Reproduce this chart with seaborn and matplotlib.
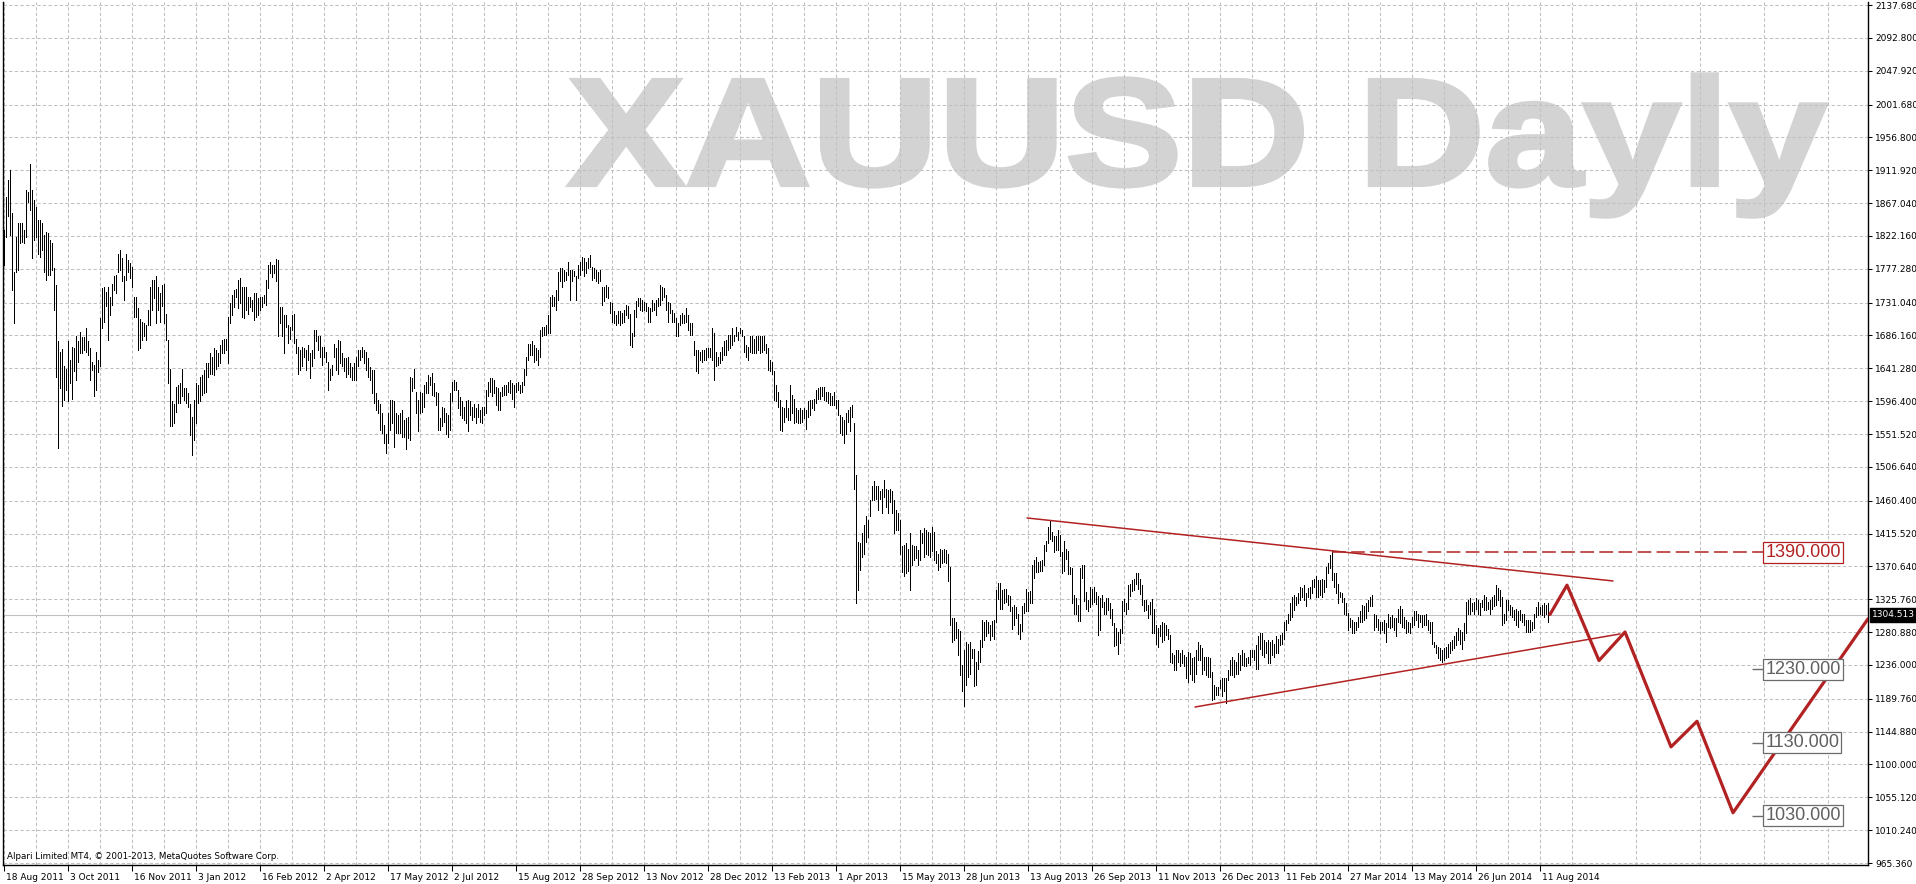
import numpy as np
import pandas as pd

import seaborn as sns
import matplotlib
matplotlib.use('Agg')
import matplotlib.pyplot as plt
from matplotlib.textpath import TextPath
from matplotlib.patches import PathPatch
from matplotlib.font_manager import FontProperties
from matplotlib.transforms import Affine2D, IdentityTransform, ScaledTranslation, blended_transform_factory

# daily bars, 18 Aug 2011 .. 15 Aug 2014 (low / high)
bar_low = [
    1783, 1821, 1850, 1824, 1748, 1703, 1773, 1776, 1812, 1814,
    1812, 1821, 1868, 1858, 1792, 1817, 1821, 1798, 1794, 1803,
    1773, 1762, 1769, 1769, 1776, 1721, 1629, 1532, 1614, 1590,
    1598, 1612, 1596, 1621, 1600, 1637, 1625, 1650, 1662, 1662,
    1666, 1664, 1660, 1625, 1639, 1603, 1612, 1636, 1644, 1696,
    1705, 1726, 1680, 1714, 1728, 1748, 1744, 1773, 1776, 1760,
    1735, 1762, 1773, 1764, 1753, 1712, 1712, 1666, 1669, 1680,
    1685, 1680, 1700, 1700, 1721, 1737, 1703, 1721, 1705, 1726,
    1703, 1680, 1621, 1562, 1562, 1566, 1582, 1594, 1594, 1603,
    1598, 1594, 1589, 1550, 1523, 1543, 1566, 1594, 1596, 1605,
    1607, 1609, 1630, 1634, 1634, 1632, 1641, 1644, 1648, 1662,
    1662, 1666, 1648, 1703, 1714, 1725, 1739, 1723, 1730, 1712,
    1710, 1721, 1716, 1725, 1719, 1707, 1712, 1714, 1721, 1725,
    1730, 1728, 1751, 1771, 1766, 1771, 1760, 1685, 1703, 1685,
    1662, 1698, 1676, 1682, 1694, 1676, 1662, 1634, 1639, 1644,
    1657, 1639, 1653, 1628, 1644, 1655, 1678, 1666, 1657, 1646,
    1657, 1650, 1612, 1625, 1632, 1657, 1639, 1634, 1648, 1644,
    1637, 1630, 1634, 1630, 1625, 1625, 1625, 1644, 1653, 1657,
    1648, 1639, 1630, 1625, 1607, 1594, 1584, 1580, 1557, 1553,
    1539, 1525, 1539, 1557, 1566, 1534, 1553, 1553, 1553, 1548,
    1548, 1531, 1546, 1543, 1610, 1614, 1580, 1555, 1580, 1582,
    1589, 1607, 1607, 1619, 1605, 1603, 1591, 1557, 1557, 1562,
    1568, 1552, 1548, 1557, 1596, 1612, 1612, 1587, 1578, 1573,
    1571, 1566, 1555, 1578, 1571, 1575, 1566, 1575, 1568, 1566,
    1578, 1580, 1603, 1609, 1603, 1607, 1591, 1584, 1584, 1603,
    1605, 1605, 1609, 1607, 1600, 1589, 1609, 1612, 1607, 1609,
    1619, 1632, 1653, 1660, 1660, 1650, 1653, 1646, 1657, 1685,
    1687, 1687, 1689, 1689, 1726, 1726, 1721, 1735, 1760, 1753,
    1760, 1762, 1769, 1735, 1760, 1767, 1735, 1764, 1769, 1776,
    1767, 1771, 1778, 1780, 1762, 1764, 1760, 1758, 1760, 1728,
    1733, 1739, 1737, 1717, 1705, 1703, 1700, 1703, 1701, 1703,
    1705, 1714, 1710, 1673, 1671, 1685, 1712, 1726, 1721, 1719,
    1721, 1719, 1705, 1705, 1719, 1721, 1714, 1726, 1728, 1735,
    1739, 1721, 1705, 1717, 1705, 1705, 1685, 1685, 1701, 1703,
    1703, 1705, 1694, 1687, 1687, 1660, 1637, 1635, 1653, 1650,
    1653, 1653, 1657, 1657, 1653, 1625, 1644, 1646, 1648, 1653,
    1660, 1660, 1666, 1669, 1673, 1678, 1685, 1680, 1689, 1685,
    1664, 1657, 1653, 1664, 1662, 1662, 1662, 1666, 1662, 1664,
    1666, 1662, 1639, 1637, 1634, 1598, 1596, 1589, 1557, 1555,
    1568, 1575, 1571, 1571, 1580, 1566, 1568, 1566, 1566, 1568,
    1573, 1559, 1575, 1578, 1587, 1584, 1594, 1600, 1600, 1603,
    1598, 1596, 1594, 1591, 1591, 1591, 1587, 1578, 1553, 1550,
    1539, 1552, 1568, 1555, 1575, 1476, 1321, 1338, 1366, 1384,
    1388, 1404, 1411, 1439, 1461, 1461, 1463, 1448, 1463, 1443,
    1466, 1452, 1443, 1459, 1443, 1416, 1420, 1420, 1388, 1363,
    1357, 1361, 1365, 1338, 1372, 1380, 1382, 1372, 1379, 1402,
    1384, 1388, 1386, 1384, 1391, 1379, 1375, 1366, 1370, 1375,
    1377, 1375, 1350, 1290, 1268, 1270, 1273, 1250, 1222, 1200,
    1180, 1208, 1220, 1223, 1245, 1207, 1208, 1230, 1240, 1261,
    1270, 1275, 1280, 1270, 1276, 1272, 1295, 1326, 1313, 1313,
    1320, 1322, 1318, 1310, 1285, 1290, 1300, 1278, 1272, 1282,
    1307, 1309, 1310, 1320, 1320, 1355, 1363, 1363, 1365, 1365,
    1373, 1392, 1402, 1408, 1405, 1390, 1393, 1393, 1385, 1362,
    1364, 1381, 1360, 1360, 1320, 1306, 1305, 1296, 1296, 1355,
    1323, 1313, 1310, 1315, 1319, 1322, 1319, 1277, 1284, 1315,
    1306, 1305, 1311, 1300, 1290, 1262, 1263, 1251, 1266, 1280,
    1310, 1305, 1312, 1330, 1337, 1339, 1347, 1340, 1333, 1318,
    1310, 1311, 1300, 1305, 1280, 1279, 1265, 1261, 1275, 1268,
    1270, 1277, 1272, 1240, 1238, 1229, 1229, 1240, 1234, 1238,
    1234, 1218, 1213, 1224, 1215, 1213, 1224, 1243, 1243, 1224,
    1229, 1222, 1220, 1220, 1188, 1190, 1195, 1195, 1204, 1193,
    1200, 1184, 1215, 1222, 1222, 1220, 1224, 1224, 1229, 1236,
    1234, 1234, 1238, 1236, 1247, 1243, 1231, 1231, 1258, 1249,
    1247, 1252, 1238, 1238, 1249, 1247, 1252, 1252, 1263, 1265,
    1272, 1284, 1293, 1297, 1302, 1311, 1318, 1320, 1325, 1329,
    1325, 1316, 1329, 1327, 1334, 1343, 1329, 1329, 1332, 1329,
    1336, 1343, 1361, 1368, 1352, 1343, 1334, 1320, 1329, 1322,
    1306, 1304, 1284, 1288, 1279, 1279, 1284, 1288, 1295, 1295,
    1297, 1300, 1309, 1316, 1316, 1284, 1288, 1284, 1279, 1284,
    1279, 1268, 1288, 1286, 1288, 1284, 1275, 1295, 1293, 1288,
    1286, 1279, 1281, 1279, 1288, 1291, 1297, 1288, 1295, 1288,
    1291, 1291, 1284, 1279, 1265, 1261, 1252, 1245, 1243, 1240,
    1243, 1245, 1247, 1252, 1256, 1259, 1263, 1270, 1265, 1258,
    1270, 1279, 1306, 1306, 1309, 1306, 1313, 1306, 1304, 1315,
    1311, 1311, 1313, 1306, 1313, 1316, 1318, 1325, 1316, 1291,
    1293, 1297, 1311, 1304, 1302, 1297, 1291, 1288, 1297, 1295,
    1291, 1281, 1281, 1281, 1284, 1286, 1302, 1304, 1306, 1304,
    1302, 1306, 1294,
]
bar_high = [
    1830, 1876, 1898, 1912, 1853, 1773, 1821, 1840, 1840, 1840,
    1830, 1885, 1882, 1921, 1885, 1871, 1862, 1844, 1844, 1840,
    1824, 1828, 1826, 1817, 1812, 1778, 1755, 1678, 1664, 1668,
    1644, 1640, 1678, 1652, 1670, 1669, 1685, 1678, 1691, 1684,
    1684, 1696, 1678, 1669, 1650, 1646, 1664, 1652, 1710, 1751,
    1753, 1745, 1753, 1739, 1757, 1767, 1769, 1798, 1803, 1792,
    1767, 1798, 1789, 1785, 1780, 1739, 1739, 1723, 1709, 1705,
    1703, 1701, 1721, 1753, 1762, 1762, 1767, 1753, 1744, 1755,
    1757, 1716, 1680, 1641, 1596, 1593, 1616, 1619, 1621, 1641,
    1614, 1614, 1607, 1593, 1575, 1598, 1621, 1619, 1630, 1632,
    1639, 1648, 1648, 1662, 1657, 1669, 1666, 1662, 1673, 1680,
    1682, 1682, 1712, 1730, 1741, 1748, 1750, 1762, 1764, 1753,
    1753, 1753, 1739, 1739, 1735, 1744, 1744, 1737, 1739, 1739,
    1741, 1762, 1782, 1787, 1782, 1782, 1791, 1789, 1725, 1725,
    1714, 1714, 1700, 1698, 1714, 1716, 1682, 1671, 1666, 1671,
    1669, 1666, 1673, 1662, 1666, 1694, 1694, 1685, 1685, 1671,
    1671, 1664, 1650, 1641, 1646, 1675, 1669, 1680, 1678, 1662,
    1655, 1655, 1657, 1648, 1643, 1648, 1657, 1666, 1666, 1671,
    1666, 1664, 1655, 1643, 1639, 1639, 1607, 1598, 1593, 1580,
    1564, 1552, 1580, 1598, 1598, 1596, 1580, 1578, 1580, 1584,
    1571, 1573, 1575, 1630, 1628, 1641, 1609, 1598, 1609, 1607,
    1618, 1623, 1632, 1630, 1635, 1621, 1609, 1607, 1573, 1589,
    1587, 1580, 1578, 1607, 1623, 1625, 1623, 1612, 1602, 1596,
    1589, 1596, 1598, 1596, 1589, 1593, 1587, 1593, 1584, 1589,
    1589, 1612, 1623, 1628, 1628, 1625, 1616, 1614, 1609, 1616,
    1618, 1618, 1623, 1625, 1621, 1618, 1621, 1623, 1619, 1623,
    1641, 1657, 1675, 1675, 1678, 1673, 1669, 1666, 1694, 1698,
    1698, 1700, 1714, 1739, 1742, 1739, 1748, 1773, 1778, 1778,
    1776, 1773, 1787, 1776, 1776, 1774, 1767, 1783, 1787, 1794,
    1792, 1787, 1792, 1796, 1780, 1778, 1776, 1773, 1776, 1753,
    1753, 1755, 1753, 1732, 1730, 1719, 1714, 1719, 1719, 1717,
    1721, 1728, 1726, 1716, 1689, 1721, 1733, 1737, 1737, 1735,
    1732, 1730, 1725, 1723, 1735, 1730, 1735, 1737, 1755, 1753,
    1751, 1742, 1732, 1730, 1721, 1717, 1710, 1703, 1714, 1717,
    1714, 1723, 1714, 1703, 1703, 1678, 1666, 1666, 1664, 1666,
    1666, 1669, 1669, 1669, 1696, 1689, 1664, 1657, 1664, 1671,
    1678, 1680, 1687, 1687, 1696, 1687, 1698, 1691, 1696, 1694,
    1685, 1673, 1671, 1685, 1685, 1682, 1685, 1685, 1685, 1685,
    1685, 1675, 1669, 1653, 1650, 1637, 1619, 1609, 1598, 1589,
    1587, 1598, 1587, 1619, 1605, 1600, 1587, 1584, 1587, 1584,
    1587, 1584, 1596, 1598, 1598, 1600, 1612, 1614, 1616, 1616,
    1616, 1609, 1609, 1607, 1603, 1609, 1598, 1598, 1578, 1575,
    1571, 1580, 1584, 1589, 1591, 1566, 1496, 1404, 1402, 1416,
    1427, 1439, 1434, 1461, 1480, 1487, 1480, 1480, 1473, 1477,
    1489, 1477, 1475, 1477, 1473, 1461, 1448, 1443, 1434, 1398,
    1400, 1402, 1395, 1416, 1400, 1398, 1398, 1393, 1420, 1416,
    1423, 1420, 1418, 1416, 1425, 1418, 1391, 1388, 1395, 1393,
    1395, 1393, 1388, 1370, 1300, 1300, 1295, 1285, 1282, 1236,
    1256, 1267, 1265, 1267, 1258, 1258, 1240, 1255, 1270, 1298,
    1295, 1298, 1295, 1290, 1296, 1298, 1338, 1348, 1348, 1338,
    1340, 1340, 1331, 1330, 1315, 1318, 1315, 1305, 1292, 1316,
    1320, 1340, 1336, 1337, 1373, 1380, 1383, 1377, 1378, 1380,
    1400, 1406, 1425, 1433, 1418, 1412, 1412, 1420, 1414, 1390,
    1405, 1394, 1391, 1370, 1368, 1332, 1327, 1318, 1369, 1373,
    1372, 1335, 1325, 1343, 1340, 1343, 1336, 1330, 1327, 1331,
    1322, 1327, 1327, 1321, 1312, 1293, 1286, 1281, 1285, 1324,
    1326, 1320, 1345, 1346, 1352, 1353, 1361, 1361, 1353, 1345,
    1325, 1325, 1318, 1322, 1326, 1313, 1291, 1286, 1291, 1294,
    1293, 1291, 1285, 1277, 1252, 1249, 1256, 1256, 1252, 1256,
    1249, 1247, 1254, 1252, 1245, 1247, 1256, 1268, 1263, 1259,
    1247, 1247, 1247, 1245, 1227, 1209, 1206, 1206, 1215, 1218,
    1218, 1218, 1229, 1243, 1247, 1243, 1240, 1252, 1249, 1256,
    1252, 1245, 1247, 1256, 1256, 1256, 1263, 1275, 1279, 1279,
    1270, 1268, 1270, 1268, 1270, 1265, 1275, 1272, 1277, 1279,
    1295, 1297, 1306, 1320, 1329, 1332, 1329, 1334, 1343, 1341,
    1345, 1334, 1341, 1343, 1352, 1354, 1357, 1352, 1352, 1354,
    1352, 1370, 1375, 1386, 1392, 1361, 1361, 1347, 1336, 1334,
    1327, 1320, 1307, 1300, 1297, 1295, 1295, 1302, 1309, 1318,
    1316, 1320, 1325, 1329, 1332, 1306, 1304, 1299, 1295, 1295,
    1297, 1293, 1306, 1302, 1304, 1300, 1300, 1313, 1316, 1313,
    1302, 1297, 1295, 1293, 1302, 1309, 1309, 1306, 1304, 1304,
    1304, 1306, 1297, 1295, 1295, 1268, 1263, 1261, 1259, 1256,
    1259, 1261, 1265, 1268, 1270, 1275, 1281, 1286, 1284, 1281,
    1293, 1322, 1325, 1327, 1320, 1322, 1327, 1325, 1320, 1325,
    1332, 1329, 1322, 1325, 1329, 1332, 1345, 1341, 1338, 1329,
    1306, 1325, 1325, 1318, 1315, 1311, 1313, 1309, 1311, 1306,
    1306, 1297, 1297, 1297, 1295, 1306, 1315, 1322, 1315, 1318,
    1320, 1318, 1320,
]

date_labels = ['18 Aug 2011', '3 Oct 2011', '16 Nov 2011', '3 Jan 2012', '16 Feb 2012',
               '2 Apr 2012', '17 May 2012', '2 Jul 2012', '15 Aug 2012', '28 Sep 2012',
               '13 Nov 2012', '28 Dec 2012', '13 Feb 2013', '1 Apr 2013', '15 May 2013',
               '28 Jun 2013', '13 Aug 2013', '26 Sep 2013', '11 Nov 2013', '26 Dec 2013',
               '11 Feb 2014', '27 Mar 2014', '13 May 2014', '26 Jun 2014', '11 Aug 2014']
price_ticks = [2137.68, 2092.80, 2047.92, 2001.68, 1956.80, 1911.92, 1867.04, 1822.16,
               1777.28, 1731.04, 1686.16, 1641.28, 1596.40, 1551.52, 1506.64, 1460.40,
               1415.52, 1370.64, 1325.76, 1280.88, 1236.00, 1189.76, 1144.88, 1100.00,
               1055.12, 1010.24, 965.36]
last_price = 1304.513

# hand drawn objects (bar index, price)
upper_trend_x = [511.5, 804.5]
upper_trend_y = [1436.8, 1350.7]
lower_trend_x = [595.5, 808.0]
lower_trend_y = [1178.5, 1278.3]
resist_level = 1390.0
resist_from = 664
forecast_x = [773, 781.5, 797.5, 810.5, 833.5, 846.5, 864.5, 932]
forecast_y = [1305, 1345, 1242, 1281, 1124, 1159, 1034, 1299]
target_levels = [1230.0, 1130.0, 1030.0]

RED = '#b22222'
GRID = '#c0c0c0'

assert len(bar_low) == len(bar_high)
bars = pd.DataFrame({'bar': np.arange(len(bar_low)), 'low': bar_low, 'high': bar_high})

sns.set_theme(style='white')
plt.rcParams['font.family'] = ['DejaVu Sans']

W, H = 1916, 884
fig = plt.figure(figsize=(W / 100, H / 100), dpi=100)
ax = fig.add_axes([3 / W, 19 / H, 1865 / W, 863 / H])
ax.set_facecolor('white')

ax.set_xlim(-0.5, 932)
ax.set_ylim(962.63, 2141.78)

# watermark, fitted to its box in pixels (outline stroke makes it heavier)
fp = FontProperties(family='Liberation Sans', weight='bold')
tp = TextPath((0, 0), 'XAUUSD Dayly', size=100, prop=fp)
ext = tp.get_extents()
cap_h = TextPath((0, 0), 'X', size=100, prop=fp).get_extents().y1
wm_left, wm_right, wm_top, wm_base = 569, 1826, 80, 185
sx = (wm_right - wm_left) / ext.width
sy = (wm_base - wm_top) / cap_h
tr = Affine2D().translate(-ext.x0, 0).scale(sx, sy).translate(wm_left, H - wm_base)
ax.add_patch(PathPatch(tr.transform_path(tp), fc='#d3d3d3', ec='#d3d3d3', lw=3,
                       joinstyle='miter', transform=IdentityTransform(), zorder=0.3))

# grid
ax.set_axisbelow(True)
ax.set_xticks(np.arange(0, 32 * len(date_labels), 32))
ax.set_xticklabels(date_labels)
ax.set_xticks(np.arange(16, 932, 32), minor=True)
ax.set_yticks(price_ticks)
ax.set_yticklabels(['%.3f' % p for p in price_ticks])
ax.grid(True, which='both', color=GRID, lw=0.75, linestyle=(0, (3.2, 2.2)))

ax.axhline(last_price, color=GRID, lw=0.8, zorder=0.8)

# price bars, one pixel wide
ax.vlines(bars['bar'], bars['low'], bars['high'], color='black', lw=0.68, zorder=2,
          antialiased=False)

# trend lines and forecast
sns.lineplot(x=upper_trend_x, y=upper_trend_y, ax=ax, color=RED, lw=1.1, zorder=3)
sns.lineplot(x=lower_trend_x, y=lower_trend_y, ax=ax, color=RED, lw=1.1, zorder=3)
ax.hlines(resist_level, resist_from, 880, color=RED, lw=1.1, linestyles=(0, (9, 3.5)), zorder=3)
sns.lineplot(x=forecast_x, y=forecast_y, ax=ax, color=RED, lw=2.3, sort=False, zorder=3)

ax.text(880.6, resist_level, '%.3f' % resist_level, family='Liberation Sans', fontsize=13,
        color=RED, ha='left', va='center', zorder=5,
        bbox=dict(boxstyle='square,pad=0.12', fc='white', ec=RED, lw=0.9))
for lvl in target_levels:
    ax.hlines(lvl, 874, 880, color='#6b6b6b', lw=1, zorder=4)
    ax.text(880.6, lvl, '%.3f' % lvl, family='Liberation Sans', fontsize=13,
            color='#5f6062', ha='left', va='center', zorder=5,
            bbox=dict(boxstyle='square,pad=0.12', fc='white', ec='#6b6b6b', lw=0.9))

# axes look
for side in ['left', 'bottom', 'right']:
    ax.spines[side].set_visible(True)
    ax.spines[side].set_color('black')
    ax.spines[side].set_linewidth(1)
ax.spines['top'].set_visible(False)

ax.yaxis.tick_right()
ax.tick_params(axis='y', which='major', right=True, left=False, labelright=True, labelleft=False,
               direction='out', length=3, width=0.75, pad=2, labelsize=6.5, colors='black')
ax.tick_params(axis='x', which='major', bottom=True, direction='out', length=4, width=0.75,
               pad=2, labelsize=6.5, colors='black')
ax.tick_params(axis='x', which='minor', bottom=False, length=0)
shift = ScaledTranslation(2 / 100, 0, fig.dpi_scale_trans)
for lab in ax.get_xticklabels():
    lab.set_horizontalalignment('left')
    lab.set_transform(lab.get_transform() + shift)
ax.set_xlabel('')
ax.set_ylabel('')
if ax.get_legend() is not None:
    ax.get_legend().remove()

ax.text(1.0, last_price, '%.3f' % last_price, transform=blended_transform_factory(ax.transAxes, ax.transData)
        + ScaledTranslation(4 / 100, 0, fig.dpi_scale_trans),
        ha='left', va='center', color='white', fontsize=6.5, clip_on=False, zorder=6,
        bbox=dict(boxstyle='square,pad=0.25', fc='black', ec='black'))

ax.annotate('Alpari Limited MT4, \u00a9 2001-2013, MetaQuotes Software Corp.', xy=(0, 0),
            xycoords='axes fraction', xytext=(4, 6), textcoords='offset pixels',
            fontsize=6.3, color='black', ha='left', va='baseline')

fig.savefig('out.png', dpi=100, facecolor='white')
